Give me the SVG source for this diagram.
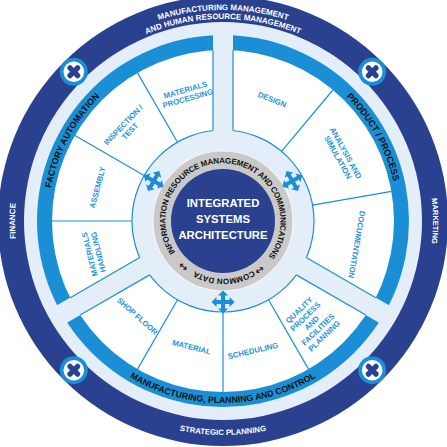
<svg xmlns="http://www.w3.org/2000/svg" xmlns:xlink="http://www.w3.org/1999/xlink" width="447" height="447" viewBox="0 0 447 447">
<style>
text{font-family:"Liberation Sans",Arial,sans-serif;font-weight:bold}
.outer{fill:#fff;font-size:8px}
.band{fill:#111;font-size:9px}
.lbl{fill:#1f93dc;font-size:7.8px;text-anchor:middle}
.ring{fill:#111;font-size:8px}
.div{stroke:#1b8fd5;stroke-width:1.2;fill:none}
.ctr{fill:#fff;font-size:11.3px;text-anchor:middle}
.arr{font-family:"DejaVu Sans",sans-serif;font-size:11px;font-weight:normal;fill:#111}
</style>
<defs>
<path id="cw211" d="M223,432 A211,211 0 1 1 223,10 A211,211 0 1 1 223,432"/>
<path id="cw202" d="M223,423 A202,202 0 1 1 223,19 A202,202 0 1 1 223,423"/>
<path id="cw208" d="M223,429 A208,208 0 1 1 223,13 A208,208 0 1 1 223,429"/>
<path id="cw210" d="M223,431 A210,210 0 1 1 223,11 A210,210 0 1 1 223,431"/>
<path id="ccw214" d="M223,7 A214,214 0 1 0 223,435 A214,214 0 1 0 223,7"/>
<path id="cw175" d="M223,396 A175,175 0 1 1 223,46 A175,175 0 1 1 223,396"/>
<path id="ccw182" d="M223,39 A182,182 0 1 0 223,403 A182,182 0 1 0 223,39"/>
<path id="gr57" d="M175.75,252.87 A57,57 0 1 1 270.25,189.13 A57,57 0 1 1 175.75,252.87"/>
<g id="xicon">
<circle r="14" fill="#1b8fd5"/>
<circle r="10.3" fill="#fff"/>
<rect x="-8" y="-2.7" width="16" height="5.4" rx="2.5" fill="#2a4190" transform="rotate(45)"/>
<rect x="-8" y="-2.7" width="16" height="5.4" rx="2.5" fill="#2a4190" transform="rotate(-45)"/>
</g>
<path id="arrow4" d="M11.5,0 L6.5,-5 L6.5,-2 L2,-2 L2,-6.5 L5,-6.5 L0,-11.5 L-5,-6.5 L-2,-6.5 L-2,-2 L-6.5,-2 L-6.5,-5 L-11.5,0 L-6.5,5 L-6.5,2 L-2,2 L-2,6.5 L-5,6.5 L0,11.5 L5,6.5 L2,6.5 L2,2 L6.5,2 L6.5,5 Z" fill="#1b8fd5"/>
<g id="gap">
<rect x="62" y="-10" width="132" height="20" fill="#e4eef8"/>
<line x1="90.4" y1="-10" x2="170.7" y2="-10" class="div"/>
<line x1="90.4" y1="10" x2="170.7" y2="10" class="div"/>
</g>
</defs>

<g id="rings">
<circle cx="223" cy="221" r="225" fill="#2a4190"/>
<circle cx="223" cy="221" r="199" fill="#e4eef8"/>
<circle cx="223" cy="221" r="186" fill="#1b8fd5"/>
<circle cx="223" cy="221" r="171" fill="#fff"/>
<circle cx="223" cy="221" r="91" fill="#e4eef8" stroke="#1b8fd5" stroke-width="1.2"/>
</g>

<g id="connectors">
<line x1="177.5" y1="142.2" x2="137.5" y2="72.9" class="div"/>
<line x1="148.5" y1="178" x2="74.9" y2="135.5" class="div"/>
<line x1="132" y1="221" x2="52" y2="221" class="div"/>
<line x1="281.5" y1="151.3" x2="332.9" y2="90" class="div"/>
<line x1="312.6" y1="205.2" x2="391.4" y2="191.3" class="div"/>
<line x1="177.5" y1="299.8" x2="137.5" y2="369.1" class="div"/>
<line x1="223" y1="305" x2="223" y2="392" class="div"/>
<line x1="268.5" y1="299.8" x2="308.5" y2="369.1" class="div"/>
</g>

<g id="gaps">
<use xlink:href="#gap" transform="translate(223,221) rotate(-90)"/>
<use xlink:href="#gap" transform="translate(223,221) rotate(30)"/>
<use xlink:href="#gap" transform="translate(223,221) rotate(150)"/>
</g>

<g id="core">
<circle cx="223" cy="221" r="70" fill="#c9c9c9" stroke="#f4f4f4" stroke-width="1.2"/>
<circle cx="223" cy="221" r="52" fill="#2a4190"/>
<text class="ring"><textPath xlink:href="#gr57" startOffset="35.1%" text-anchor="middle" textLength="252" lengthAdjust="spacing">INFORMATION RESOURCE MANAGEMENT AND COMMUNICATIONS</textPath></text>
<text class="ring"><textPath xlink:href="#gr57" startOffset="84.2%" text-anchor="middle">COMMON DATA</textPath></text>
<text class="arr"><textPath xlink:href="#gr57" startOffset="74.2%" text-anchor="middle">↔</textPath></text>
<text class="arr"><textPath xlink:href="#gr57" startOffset="95.8%" text-anchor="middle">↔</textPath></text>
<text class="ctr" x="223" y="207">INTEGRATED</text>
<text class="ctr" x="223" y="223">SYSTEMS</text>
<text class="ctr" x="223" y="239">ARCHITECTURE</text>
</g>

<g id="arrows">
<use xlink:href="#arrow4" transform="translate(153.7,181) rotate(-150)"/>
<use xlink:href="#arrow4" transform="translate(292.3,181) rotate(-30)"/>
<use xlink:href="#arrow4" transform="translate(223,302) rotate(90)"/>
</g>

<g id="outer-labels">
<text class="outer"><textPath xlink:href="#cw211" startOffset="50%" text-anchor="middle">MANUFACTURING MANAGEMENT</textPath></text>
<text class="outer"><textPath xlink:href="#cw202" startOffset="50%" text-anchor="middle">AND HUMAN RESOURCE MANAGEMENT</textPath></text>
<text class="outer"><textPath xlink:href="#cw208" startOffset="25%" text-anchor="middle">FINANCE</textPath></text>
<text class="outer" style="font-size:7.5px"><textPath xlink:href="#cw210" startOffset="75%" text-anchor="middle">MARKETING</textPath></text>
<text class="outer" style="font-size:7.8px"><textPath xlink:href="#ccw214" startOffset="50%" text-anchor="middle">STRATEGIC PLANNING</textPath></text>
</g>

<g id="icons">
<use xlink:href="#xicon" transform="translate(73.8,71.8)"/>
<use xlink:href="#xicon" transform="translate(372.2,71.8)"/>
<use xlink:href="#xicon" transform="translate(73.8,370.2)"/>
<use xlink:href="#xicon" transform="translate(372.2,370.2)"/>
</g>

<g id="factory-automation">
<text class="band"><textPath xlink:href="#cw175" startOffset="32.8%" text-anchor="middle">FACTORY AUTOMATION</textPath></text>
<g id="materials-processing"><text class="lbl" transform="translate(186.6,94.1) rotate(-16)"><tspan x="0" y="-1.7">MATERIALS</tspan><tspan x="0" y="7.3">PROCESSING</tspan></text></g>
<g id="inspection-test"><text class="lbl" transform="translate(126.6,127.9) rotate(-46)"><tspan x="0" y="-1.7">INSPECTION /</tspan><tspan x="0" y="7.3">TEST</tspan></text></g>
<g id="assembly"><text class="lbl" transform="translate(97.4,187.4) rotate(-75)" y="2.8">ASSEMBLY</text></g>
<g id="materials-handling"><text class="lbl" transform="translate(93.9,253.2) rotate(-104)"><tspan x="0" y="-1.7">MATERIALS</tspan><tspan x="0" y="7.3">HANDLING</tspan></text></g>
</g>

<g id="product-process">
<text class="band" style="font-size:9.2px"><textPath xlink:href="#cw175" startOffset="66.9%" text-anchor="middle">PRODUCT / PROCESS</textPath></text>
<g id="design"><text class="lbl" transform="translate(272.1,99.5) rotate(22)" y="2.8">DESIGN</text></g>
<g id="analysis-simulation"><text class="lbl" transform="translate(341.9,155.1) rotate(61)"><tspan x="0" y="-1.7">ANALYSIS AND</tspan><tspan x="0" y="7.3">SIMULATION</tspan></text></g>
<g id="documentation"><text class="lbl" transform="translate(356.9,244.6) rotate(100)" y="2.8">DOCUMENTATION</text></g>
</g>

<g id="manufacturing-planning-control">
<text class="band" style="font-size:8.8px"><textPath xlink:href="#ccw182" startOffset="50%" text-anchor="middle">MANUFACTURING, PLANNING AND CONTROL</textPath></text>
<g id="shop-floor"><text class="lbl" transform="translate(137.4,316.1) rotate(42)" y="2.8">SHOP FLOOR</text></g>
<g id="material"><text class="lbl" transform="translate(191.6,347.1) rotate(14)" y="2.8">MATERIAL</text></g>
<g id="scheduling"><text class="lbl" transform="translate(252.9,350.6) rotate(-13)" y="2.8">SCHEDULING</text></g>
<g id="quality"><text class="lbl" transform="translate(311.6,322.9) rotate(-44)"><tspan x="0" y="-15.2">QUALITY</tspan><tspan x="0" y="-6.2">PROCESS</tspan><tspan x="0" y="2.8">AND</tspan><tspan x="0" y="11.8">FACILITIES</tspan><tspan x="0" y="20.8">PLANNING</tspan></text></g>
</g>
</svg>
